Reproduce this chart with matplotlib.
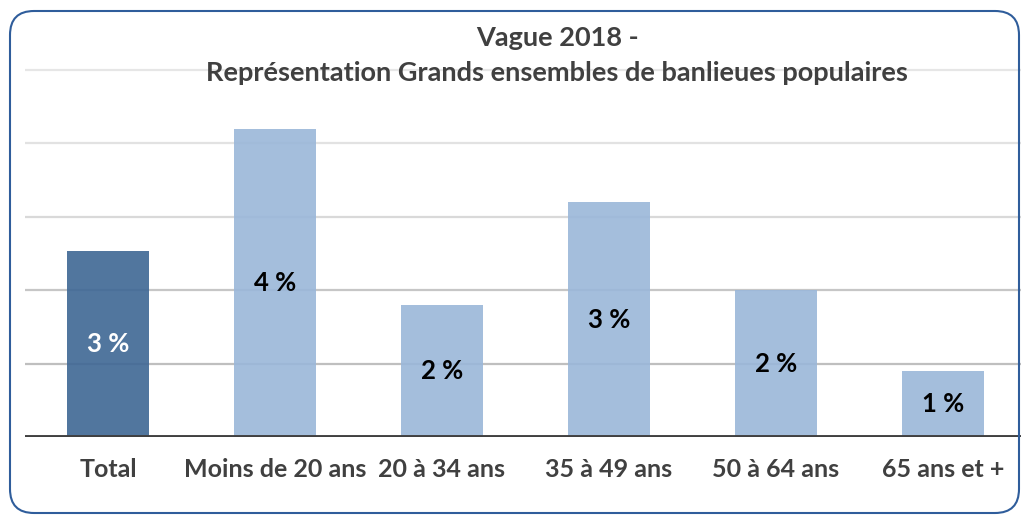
import matplotlib
matplotlib.use("Agg")
import matplotlib.pyplot as plt
from matplotlib.patches import FancyBboxPatch

plt.rcParams['font.family'] = ['Lato', 'DejaVu Sans']

categories = ["Total", "Moins de 20 ans", "20 à 34 ans", "35 à 49 ans", "50 à 64 ans", "65 ans et +"]
values = [2.53, 4.2, 1.8, 3.2, 2.0, 0.9]
labels = ["3 %", "4 %", "2 %", "3 %", "2 %", "1 %"]
title_lines = ["Vague 2018 -", "Représentation Grands ensembles de banlieues populaires"]

W, H = 1021, 516
fig = plt.figure(figsize=(W / 100, H / 100), dpi=100)

# Plot area in pixel terms
left_px, right_px = 24.5, 1026.5
base_px = 437
unit_px = 73.4
ytop = 5.3
ax = fig.add_axes([left_px / W, (H - base_px) / H, (right_px - left_px) / W, ytop * unit_px / H])
ax.set_xlim(-0.5, len(categories) - 0.5)
ax.set_ylim(0, ytop)

grid_cols = {1: "#bfbfbf", 2: "#c6c6c6", 3: "#d9d9d9", 4: "#e2e2e2", 5: "#e6e6e6"}
for g, c in grid_cols.items():
    ax.axhline(g, color=c, lw=1.6, zorder=1)

colors = ["#3E6794"] + ["#9AB7D9"] * (len(categories) - 1)
x = range(len(categories))
bars = ax.bar(x, values, width=0.49, color=colors, alpha=0.9, zorder=2,
              edgecolor="none")
for i, (v, lab) in enumerate(zip(values, labels)):
    ax.text(i, v / 2, lab, ha="center", va="center", fontsize=18.5, fontweight="bold",
            color="white" if i == 0 else "black", zorder=4)

ax.axhline(0, color="#404040", lw=2.8, zorder=3)

for s in ax.spines.values():
    s.set_visible(False)
ax.set_yticks([])
ax.set_xticks(list(x))
ax.set_xticklabels(categories, fontsize=18, fontweight="bold", color="#404040")
ax.tick_params(axis="x", length=0, pad=15)

fig.text(557 / W, 1 - 38 / H, title_lines[0], ha="center", va="center",
         fontsize=19.5, fontweight="bold", color="#404040")
fig.text(557 / W, 1 - 73 / H, title_lines[1], ha="center", va="center",
         fontsize=19.5, fontweight="bold", color="#404040")

# Rounded frame
ov = fig.add_axes([0, 0, 1, 1], facecolor="none")
ov.set_xlim(0, W)
ov.set_ylim(H, 0)
ov.axis("off")
r = 24
frame = FancyBboxPatch((10 + r, 11 + r), 1009 - 2 * r, 502 - 2 * r,
                       boxstyle=f"round,pad={r}", fill=False,
                       edgecolor="#2F5D9B", lw=1.5)
ov.add_patch(frame)

fig.savefig("out.png", dpi=100)
